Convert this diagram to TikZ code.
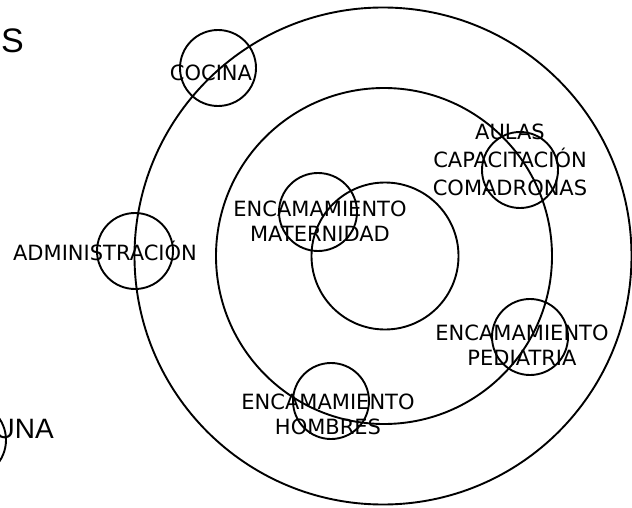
\documentclass[tikz,border=0pt]{standalone}
\usepackage{fontspec}
\setmainfont{DejaVu Sans}
\newfontfamily\arialf{Liberation Sans}
\begin{document}
\begin{tikzpicture}[x=1pt,y=-1pt,
  ring/.style={draw=black,line width=1.9pt,circle,inner sep=0pt,minimum size=#1},
  lbl/.style={font=\fontsize{21}{25}\selectfont,align=center,inner sep=0pt,text=black},
  big/.style={font=\arialf\fontsize{34}{38}\selectfont,inner sep=0pt}]
\useasboundingbox (0,0) rectangle (632,508);
% concentric rings
\node[ring=497pt] (outer) at (383,256) {};
\node[ring=336pt] (middle) at (384,256) {};
\node[ring=147pt] (inner) at (385,256) {};
% small circles
\node[ring=76pt] (ccocina) at (218,68) {};
\node[ring=76pt] (cadmin) at (135,251) {};
\node[ring=76pt] (caulas) at (520,170) {};
\node[ring=78pt] (cmat) at (318,212) {};
\node[ring=76pt] (cped) at (530,337) {};
\node[ring=76pt] (chom) at (331,401) {};
\node[ring=76pt] (cuna) at (-32,440) {};
% labels
\node[lbl] (tcocina) at (211,73) {COCINA};
\node[lbl] (tadmin) at (105,251) {ADMINISTRACIÓN};
\node[lbl,font=\fontsize{21}{28}\selectfont] (taulas) at (510,160) {AULAS\\CAPACITACIÓN\\COMADRONAS};
\node[lbl] (tmat) at (320,221) {ENCAMAMIENTO\\MATERNIDAD};
\node[lbl] (tped) at (522,345) {ENCAMAMIENTO\\PEDIATRIA};
\node[lbl] (thom) at (328,414) {ENCAMAMIENTO\\HOMBRES};
% cut-off texts at the left edge
\node[big,anchor=base east] (ts) at (24,53) {S};
\node[big,font=\arialf\fontsize{28}{30}\selectfont,anchor=base east] (tuna) at (54,438) {UNA};
\end{tikzpicture}
\end{document}
